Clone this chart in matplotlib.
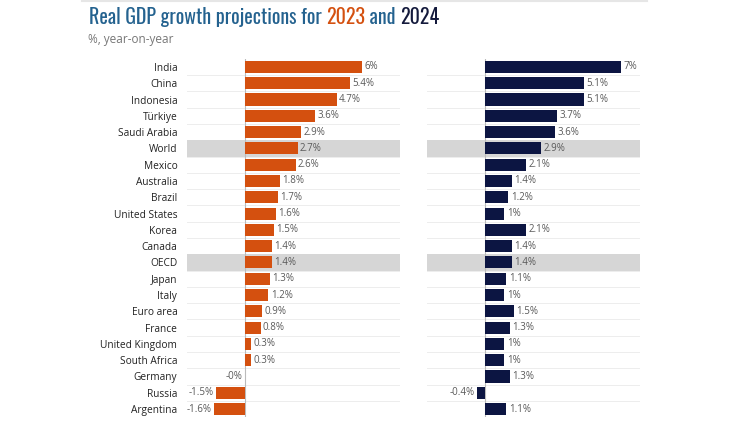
import numpy as np
import matplotlib
matplotlib.use("Agg")
import matplotlib.pyplot as plt
from matplotlib import font_manager

countries = ["India", "China", "Indonesia", "Türkiye", "Saudi Arabia", "World",
             "Mexico", "Australia", "Brazil", "United States", "Korea", "Canada",
             "OECD", "Japan", "Italy", "Euro area", "France", "United Kingdom",
             "South Africa", "Germany", "Russia", "Argentina"]
gdp_2023 = [6.0, 5.4, 4.7, 3.6, 2.9, 2.7, 2.6, 1.8, 1.7, 1.6, 1.5, 1.4,
            1.4, 1.3, 1.2, 0.9, 0.8, 0.3, 0.3, -0.0, -1.5, -1.6]
gdp_2024 = [7.0, 5.1, 5.1, 3.7, 3.6, 2.9, 2.1, 1.4, 1.2, 1.0, 2.1, 1.4,
            1.4, 1.1, 1.0, 1.5, 1.3, 1.0, 1.0, 1.3, -0.4, 1.1]
highlight = ["World", "OECD"]

ORANGE = "#D4500F"
NAVY = "#0C1542"
BLUE = "#24628F"
GREY_TXT = "#5A5A5A"

names = set(f.name for f in font_manager.fontManager.ttflist)
title_font = "DejaVu Sans"
for cand in ["Oswald", "Barlow Condensed", "Fira Sans Extra Condensed", "Asap Condensed"]:
    if cand in names:
        title_font = cand
        break
body_font = "Open Sans" if "Open Sans" in names else "DejaVu Sans"
plt.rcParams["font.family"] = [body_font, "DejaVu Sans"]

fig = plt.figure(figsize=(7.3, 4.25), dpi=100)
W, H = 730, 425

n = len(countries)
y = np.arange(n)
top_px, bot_px = 58.8, 417.2
panels = [(187, 400, gdp_2023, ORANGE, True), (427, 640, gdp_2024, NAVY, False)]

for x0, x1, vals, col, show_names in panels:
    ax = fig.add_axes([x0 / W, 1 - bot_px / H, (x1 - x0) / W, (bot_px - top_px) / H])
    ax.set_xlim(-2.97, 7.95)
    ax.set_ylim(n - 0.5, -0.5)
    for i in y:
        ax.axhline(i + 0.5, color="#EDEDED", lw=0.7, zorder=0)
    for i, c in enumerate(countries):
        if c in highlight:
            ax.axhspan(i - 0.5, i + 0.5, color="#D6D6D6", zorder=0.5, lw=0)
    ax.barh(y, vals, height=0.74, color=col, zorder=2)
    ax.axvline(0, color="#BBBBBB", lw=0.8, zorder=1)
    for i, v in enumerate(vals):
        lbl = f"{v:g}%"
        if np.signbit(v):
            ax.text(v - 0.12, i, lbl, ha="right", va="center", fontsize=7, color=GREY_TXT)
        else:
            ax.text(v + 0.12, i, lbl, ha="left", va="center", fontsize=7, color=GREY_TXT)
    for s in ax.spines.values():
        s.set_visible(False)
    ax.set_xticks([])
    ax.set_yticks(y)
    if show_names:
        ax.set_yticklabels(countries, fontsize=7.3, color="#222222")
        ax.tick_params(axis="y", length=0, pad=7)
    else:
        ax.set_yticklabels([])
        ax.tick_params(axis="y", length=0)

# top rule
fig.add_artist(plt.Line2D([82 / W, 647 / W], [1 - 1 / H, 1 - 1 / H], color="#E6E6E6", lw=1.5))

# multi-coloured title, sized so it spans about the same width as the reference
parts = [("Real GDP growth projections for ", BLUE), ("2023", ORANGE), (" and ", BLUE), ("2024", "#141a3c")]
fig.canvas.draw()
r = fig.canvas.get_renderer()
probe = fig.text(0, 0, "".join(p[0] for p in parts), fontsize=15, fontweight="bold", family=title_font)
tw = probe.get_window_extent(renderer=r).width
probe.remove()
fs = 15 * 349 / tw
xpos = 89
for txt, c in parts:
    t = fig.text(xpos / W, 1 - 24 / H, txt, fontsize=fs, fontweight="bold", color=c,
                 family=title_font, va="baseline", ha="left")
    xpos += t.get_window_extent(renderer=r).width
fig.text(88 / W, 1 - 39 / H, "%, year-on-year", fontsize=8.5, color="#777777", va="center")

fig.savefig("out.png", dpi=100)
